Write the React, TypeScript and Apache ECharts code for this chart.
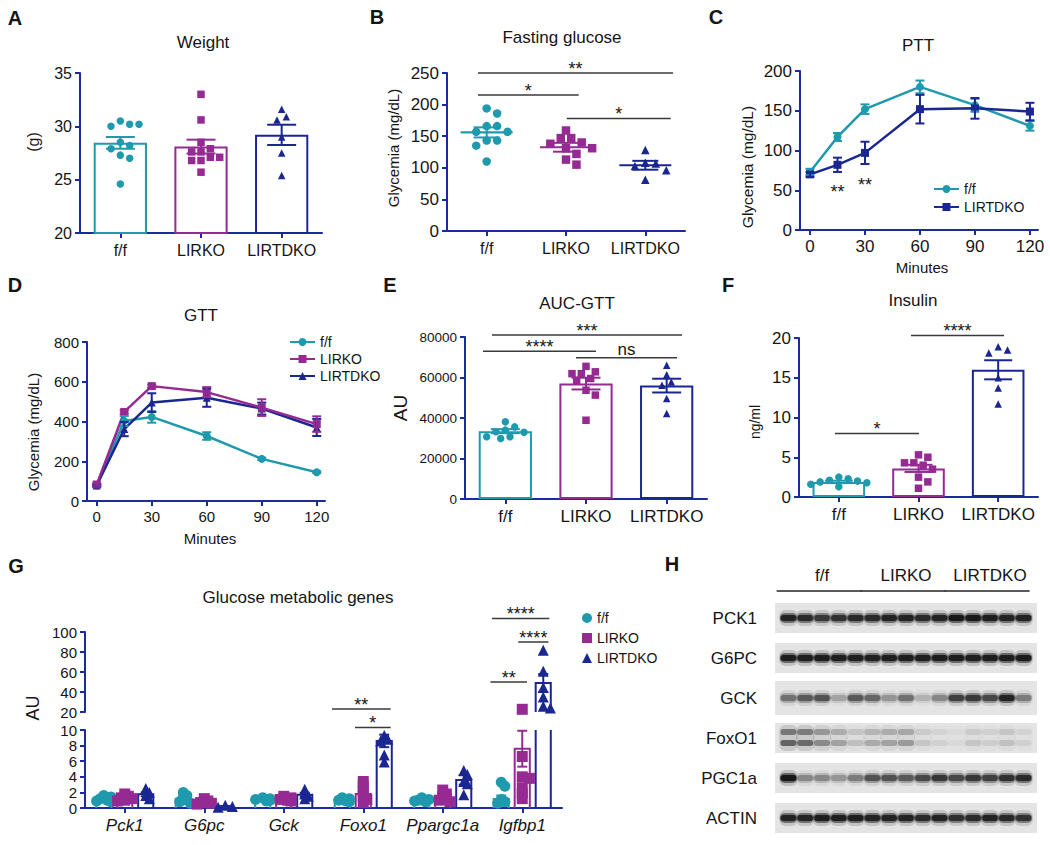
import React, { useEffect, useRef } from 'react';
import * as echarts from 'echarts';

const FONT = "'Liberation Sans', Arial, Helvetica, sans-serif";
const AXIS = '#1b2a9c';
const INK = '#151515';
const COLORS = ['#1f9aad', '#952b92', '#1b2791'];
const SYMBOLS = ['circle', 'rect', 'triangle'];

const groups = ['f/f', 'LIRKO', 'LIRTDKO'];

// A - Weight (g)
const weightFF = [30.5, 30.2, 30.0, 30.2, 28.5, 28.2, 27.9, 27.3, 27.0, 24.6];
const weightLIRKO = [33.0, 30.6, 28.5, 27.9, 27.6, 27.6, 27.1, 27.1, 26.8, 26.8, 25.7];
const weightLIRTDKO = [31.6, 30.9, 30.6, 29.0, 27.5, 25.4];
const weightMean = [28.45, 28.1, 29.2];
const weightSem = [0.55, 0.65, 0.95];

// B - Fasting glucose (mg/dL)
const glucoseFF = [194, 186, 166, 166, 157, 157, 143, 143, 135, 110];
const glucoseLIRKO = [159, 147, 147, 140, 138, 131, 131, 122, 113, 105];
const glucoseLIRTDKO = [128, 108, 107, 103, 96, 81];
const glucoseMean = [156, 132.5, 104];
const glucoseSem = [8, 7, 7];
const glucoseSig: [number, number, number, string][] = [
  [-0.11, 2.35, 250, '**'],
  [-0.11, 1.16, 215, '*'],
  [1.01, 2.32, 178, '*'],
];

// C - PTT
const minuteTicks = [0, 30, 60, 90, 120];
const pttMinutes = [0, 15, 30, 60, 90, 120];
const pttFF = [73, 117, 152, 180, 157, 131];
const pttFFSem = [4, 5, 6, 8, 8, 6];
const pttLIRTDKO = [70, 82, 97, 152, 153, 149];
const pttLIRTDKOSem = [3, 9, 14, 18, 13, 11];
const pttStars: [number, number, string][] = [
  [15, 54, '**'],
  [30, 63, '**'],
];

// D - GTT
const gttMinutes = [0, 15, 30, 60, 90, 120];
const gttFF = [78, 403, 423, 327, 212, 145];
const gttFFSem = [6, 25, 29, 19, 6, 5];
const gttLIRKO = [83, 448, 578, 548, 470, 387];
const gttLIRKOSem = [6, 8, 8, 25, 42, 39];
const gttLIRTDKO = [78, 362, 495, 520, 465, 370];
const gttLIRTDKOSem = [5, 36, 47, 46, 30, 43];

// E - AUC-GTT
const aucFF = [38100, 35600, 34000, 33200, 33000, 30700, 30700, 29900];
const aucLIRKO = [65500, 62800, 61900, 61900, 59500, 58600, 53700, 51300, 38900];
const aucLIRTDKO = [66000, 61400, 57800, 56200, 49600, 42200];
const aucMean = [33500, 57000, 56000];
const aucSem = [1000, 2900, 3400];
const aucSig: [number, number, number, string][] = [
  [-0.165, 2.19, 81000, '***'],
  [-0.277, 1.124, 73000, '****'],
  [0.876, 2.128, 69800, 'ns'],
];

// F - Insulin (ng/ml)
const insulinFF = [2.5, 2.3, 2.1, 2.0, 1.9, 1.8, 1.6, 1.3];
const insulinLIRKO = [5.3, 5.0, 4.3, 4.3, 4.0, 3.5, 2.5, 1.9, 1.1];
const insulinLIRTDKO = [18.9, 18.5, 18.1, 15.0, 13.7, 11.7];
const insulinMean = [1.9, 3.6, 16.0];
const insulinSem = [0.15, 0.45, 1.2];
const insulinSig: [number, number, number, string][] = [
  [-0.048, 1.006, 8, '*'],
  [0.906, 2.073, 20.3, '****'],
];

// G - Glucose metabolic genes (AU)
const genes = ['Pck1', 'G6pc', 'Gck', 'Foxo1', 'Ppargc1a', 'Igfbp1'];
const geneMeanFF = [1.2, 1.2, 1.1, 1.06, 1.0, 1.15];
const geneSemFF = [0.12, 0.15, 0.08, 0.08, 0.07, 0.45];
const geneMeanLIRKO = [1.4, 0.8, 1.2, 1.8, 1.4, 7.6];
const geneSemLIRKO = [0.15, 0.12, 0.1, 0.3, 0.15, 2.3];
const geneMeanLIRTDKO = [1.75, 0.2, 1.7, 8.6, 3.6, 49];
const geneSemLIRTDKO = [0.25, 0.05, 0.25, 0.8, 0.6, 9];
const genePtsFF = [
  [1.6, 1.4, 1.2, 1.0, 0.9, 0.8],
  [2.0, 1.6, 1.3, 1.0, 0.8, 0.6],
  [1.3, 1.2, 1.1, 1.0, 0.9],
  [1.3, 1.2, 1.0, 0.9, 0.8],
  [1.3, 1.1, 1.0, 0.9, 0.8],
  [3.3, 2.8, 1.1, 0.8, 0.6],
];
const genePtsLIRKO = [
  [1.8, 1.5, 1.3, 1.2, 1.0, 0.9],
  [1.2, 0.9, 0.7, 0.6, 0.5],
  [1.5, 1.3, 1.1, 1.0, 0.9],
  [3.4, 2.8, 2.1, 1.5, 1.1, 0.7],
  [2.3, 1.8, 1.5, 1.2, 1.0, 0.8],
  [22.7, 6.6, 4.0, 3.8, 2.6, 1.9, 1.2],
];
const genePtsLIRTDKO = [
  [2.5, 2.0, 1.6, 1.2],
  [0.35, 0.2, 0.1],
  [2.4, 1.8, 1.5, 1.2],
  [9.3, 8.8, 8.6, 6.8, 5.9],
  [4.8, 4.3, 3.4, 3.1, 1.7],
  [81.7, 60.7, 44.4, 35, 25.7, 24],
];
// brackets in upper-segment units
const geneSig: [number, number, number, string][] = [
  [2.607, 3.345, 23, '**'],
  [2.896, 3.345, 4.4, '*'],
  [4.62, 5.34, 113.4, '****'],
  [4.95, 5.33, 90, '****'],
  [4.6, 5.06, 50, '**'],
];

// H - western blot (band intensity 0..1 per lane)
const blotRows = ['PCK1', 'G6PC', 'GCK', 'FoxO1', 'PGC1a', 'ACTIN'];
const blotGroups = ['f/f', 'LIRKO', 'LIRTDKO'];
const blotPCK1 = [0.85, 0.8, 0.7, 0.75, 0.8, 0.8, 0.85, 0.85, 0.8, 0.85, 0.95, 0.95, 0.9, 0.85, 0.85];
const blotG6PC = [0.9, 0.9, 0.9, 0.9, 0.88, 0.88, 0.9, 0.9, 0.9, 0.9, 0.9, 0.9, 0.9, 0.9, 0.92];
const blotGCK = [0.4, 0.5, 0.55, 0.2, 0.5, 0.45, 0.25, 0.4, 0.15, 0.3, 0.65, 0.7, 0.6, 0.85, 0.35];
const blotFoxO1 = [0.75, 0.7, 0.5, 0.35, 0.2, 0.3, 0.35, 0.4, 0.15, 0.1, 0.05, 0.15, 0.12, 0.18, 0.1];
const blotPGC1a = [0.95, 0.3, 0.3, 0.25, 0.35, 0.55, 0.55, 0.5, 0.6, 0.7, 0.6, 0.7, 0.65, 0.75, 0.8];
const blotACTIN = [0.85, 0.85, 0.9, 0.9, 0.9, 0.85, 0.85, 0.85, 0.8, 0.85, 0.75, 0.8, 0.85, 0.8, 0.75];

// ---------- helpers ----------
function swarm(vals: number[], toPx: (v: number) => number, catPx: number, d: number, step = 0.55): number[] {
  const placed: number[][] = [];
  return vals.map((v) => {
    const y = toPx(v);
    for (let k = 0; k < 80; k++) {
      const x = Math.ceil(k / 2) * d * step * (k % 2 === 1 ? 1 : -1);
      if (placed.every((p) => Math.hypot(p[0] - x, p[1] - y) >= d * 0.95)) {
        placed.push([x, y]);
        return x / catPx;
      }
    }
    return 0;
  });
}

const L = (x1: number, y1: number, x2: number, y2: number, stroke: string, lineWidth = 2) => ({
  type: 'line',
  shape: { x1, y1, x2, y2 },
  style: { stroke, lineWidth },
});

function errorRender(capHalf: number, meanHalf: number) {
  return (_params: any, api: any) => {
    const x = api.value(0);
    const m = api.value(1);
    const s = api.value(2);
    const col = COLORS[api.value(3)];
    const t = api.coord([x, m + s]);
    const b = api.coord([x, m - s]);
    const ch: any[] = [
      L(t[0], t[1], b[0], b[1], col),
      L(t[0] - capHalf, t[1], t[0] + capHalf, t[1], col),
      L(b[0] - capHalf, b[1], b[0] + capHalf, b[1], col),
    ];
    if (meanHalf > 0) {
      const c = api.coord([x, m]);
      ch.push(L(c[0] - meanHalf, c[1], c[0] + meanHalf, c[1], col, 2.2));
    }
    return { type: 'group', children: ch };
  };
}

function starText(text: string, cx: number, cy: number) {
  const ns = text === 'ns';
  const fs = ns ? 17 : 18;
  const y = ns ? cy + 0.46 * fs : cy + 0.77 * fs;
  return {
    type: 'text',
    x: cx,
    y,
    style: { text, fill: INK, fontSize: fs, fontFamily: FONT, textAlign: 'center', textVerticalAlign: 'bottom' },
  };
}

function valAxis(gridIndex: number, min: number, max: number, interval: number, fontSize: number) {
  return {
    type: 'value',
    gridIndex,
    min,
    max,
    interval,
    axisLine: { show: true, onZero: false, lineStyle: { color: AXIS, width: 2 } },
    axisTick: { show: true, length: 5, lineStyle: { color: AXIS, width: 2 } },
    axisLabel: { color: INK, fontSize, fontFamily: FONT, margin: 8, formatter: (v: number) => String(v) },
    splitLine: { show: false },
  };
}

function catAxis(gridIndex: number, data: string[], fontSize: number, italic = false) {
  return {
    type: 'category',
    gridIndex,
    data,
    axisLine: { show: true, onZero: false, lineStyle: { color: AXIS, width: 2 } },
    axisTick: { show: true, alignWithLabel: true, length: 5, lineStyle: { color: AXIS, width: 2 } },
    axisLabel: {
      color: INK,
      fontSize,
      fontFamily: FONT,
      margin: 9,
      interval: 0,
      fontStyle: italic ? 'italic' : 'normal',
    },
  };
}

function minutesAxis(gridIndex: number, min: number, max: number, fontSize: number) {
  return {
    type: 'value',
    gridIndex,
    min,
    max,
    axisLine: { show: true, onZero: false, lineStyle: { color: AXIS, width: 2 } },
    axisTick: { show: true, length: 5, customValues: minuteTicks, lineStyle: { color: AXIS, width: 2 } },
    axisLabel: { customValues: minuteTicks, color: INK, fontSize, fontFamily: FONT, margin: 8 },
    splitLine: { show: false },
  };
}

const hidden = (gridIndex: number, min: number, max: number) => ({ type: 'value', gridIndex, min, max, show: false });

function buildOption() {
  const series: any[] = [];

  const panel = (cfg: {
    catX: number; valX: number; y: number; means: number[]; sems: number[]; pts: number[][];
    pxPerUnit: number; catPx: number; sym: number; bars: boolean; cap: number; meanHalf: number;
  }) => {
    if (cfg.bars) {
      series.push({
        type: 'bar', xAxisIndex: cfg.catX, yAxisIndex: cfg.y, barWidth: '66%', silent: true, z: 2,
        data: cfg.means.map((m, i) => ({ value: m, itemStyle: { color: '#ffffff', borderColor: COLORS[i], borderWidth: 2 } })),
      });
    }
    cfg.pts.forEach((vals, g) => {
      const off = swarm(vals, (v) => v * cfg.pxPerUnit, cfg.catPx, cfg.sym + 1);
      series.push({
        type: 'scatter', xAxisIndex: cfg.valX, yAxisIndex: cfg.y, symbol: SYMBOLS[g], symbolSize: cfg.sym,
        itemStyle: { color: COLORS[g], opacity: 1 }, silent: true, z: 3,
        data: vals.map((v, k) => [g + off[k], v]),
      });
    });
    series.push({
      type: 'custom', xAxisIndex: cfg.valX, yAxisIndex: cfg.y, silent: true, z: 4,
      data: cfg.means.map((m, i) => [i, m, cfg.sems[i], i]),
      renderItem: errorRender(cfg.cap, cfg.meanHalf),
    });
  };

  const sig = (x: number, y: number, items: [number, number, number, string][]) => {
    series.push({
      type: 'custom', xAxisIndex: x, yAxisIndex: y, silent: true, z: 6, clip: false,
      data: items.map((it) => [it[0], it[2]]),
      renderItem: (params: any, api: any) => {
        const it = items[params.dataIndex];
        const p1 = api.coord([it[0], it[2]]);
        const p2 = api.coord([it[1], it[2]]);
        const ns = it[3] === 'ns';
        return {
          type: 'group',
          children: [
            L(p1[0], p1[1], p2[0], p2[1], '#3a3a3a', 1.5),
            starText(it[3], (p1[0] + p2[0]) / 2, p1[1] - (ns ? 7 : 9)),
          ],
        };
      },
    });
  };

  // A
  panel({ catX: 0, valX: 1, y: 0, means: weightMean, sems: weightSem, pts: [weightFF, weightLIRKO, weightLIRTDKO],
    pxPerUnit: 160 / 15, catPx: 80.7, sym: 7.5, bars: true, cap: 14.5, meanHalf: 0 });
  // B
  panel({ catX: 2, valX: 3, y: 1, means: glucoseMean, sems: glucoseSem, pts: [glucoseFF, glucoseLIRKO, glucoseLIRTDKO],
    pxPerUnit: 158 / 250, catPx: 79.3, sym: 8.5, bars: false, cap: 13, meanHalf: 26 });
  sig(3, 1, glucoseSig);
  // E
  panel({ catX: 6, valX: 7, y: 4, means: aucMean, sems: aucSem, pts: [aucFF, aucLIRKO, aucLIRTDKO],
    pxPerUnit: 162 / 80000, catPx: 80.7, sym: 7.5, bars: true, cap: 14.5, meanHalf: 0 });
  sig(7, 4, aucSig);
  // F
  panel({ catX: 8, valX: 9, y: 5, means: insulinMean, sems: insulinSem, pts: [insulinFF, insulinLIRKO, insulinLIRTDKO],
    pxPerUnit: 159 / 20, catPx: 79.7, sym: 7.5, bars: true, cap: 14, meanHalf: 0 });
  sig(9, 5, insulinSig);

  // C & D line charts
  const lineSeries = (name: string, x: number, y: number, t: number[], v: number[], s: number[], g: number, symbol: string) => {
    series.push({
      type: 'line', name, xAxisIndex: x, yAxisIndex: y, symbol, symbolSize: 8,
      lineStyle: { color: COLORS[g], width: 2.5 }, itemStyle: { color: COLORS[g] }, silent: true, z: 3,
      data: t.map((tt, i) => [tt, v[i]]),
    });
    series.push({
      type: 'custom', xAxisIndex: x, yAxisIndex: y, silent: true, z: 4,
      data: t.map((tt, i) => [tt, v[i], s[i], g]),
      renderItem: errorRender(4.5, 0),
    });
  };
  lineSeries('C:f/f', 4, 2, pttMinutes, pttFF, pttFFSem, 0, 'circle');
  lineSeries('C:LIRTDKO', 4, 2, pttMinutes, pttLIRTDKO, pttLIRTDKOSem, 2, 'rect');
  series.push({
    type: 'custom', xAxisIndex: 4, yAxisIndex: 2, silent: true, z: 6, clip: false,
    data: pttStars.map((s) => [s[0], s[1]]),
    renderItem: (params: any, api: any) => {
      const p = api.coord([api.value(0), api.value(1)]);
      return starText(pttStars[params.dataIndex][2], p[0], p[1]);
    },
  });
  lineSeries('D:f/f', 5, 3, gttMinutes, gttFF, gttFFSem, 0, 'circle');
  lineSeries('D:LIRTDKO', 5, 3, gttMinutes, gttLIRTDKO, gttLIRTDKOSem, 2, 'triangle');
  lineSeries('D:LIRKO', 5, 3, gttMinutes, gttLIRKO, gttLIRKOSem, 1, 'rect');

  // G broken-axis grouped bars
  const gMeans = [geneMeanFF, geneMeanLIRKO, geneMeanLIRTDKO];
  const gSems = [geneSemFF, geneSemLIRKO, geneSemLIRTDKO];
  const gPts = [genePtsFF, genePtsLIRKO, genePtsLIRTDKO];
  const BAR_OFF = [-0.264, 0, 0.264];
  const gData: number[][] = [];
  gMeans.forEach((arr, g) => arr.forEach((m, c) => gData.push([c + BAR_OFF[g], m, gSems[g][c], g])));

  const geneRender = (lo: number, hi: number, part: 'bar' | 'err') => (_params: any, api: any) => {
    const x = api.value(0);
    const m = api.value(1);
    const s = api.value(2);
    const col = COLORS[api.value(3)];
    const w = api.size([1, 0])[0] * 0.19;
    const cx = api.coord([x, lo])[0];
    const yOf = (v: number) => api.coord([x, v])[1];
    const ch: any[] = [];
    if (part === 'bar') {
      if (m > lo) {
        if (m <= hi) {
          ch.push({
            type: 'polyline',
            shape: { points: [[cx - w / 2, yOf(lo)], [cx - w / 2, yOf(m)], [cx + w / 2, yOf(m)], [cx + w / 2, yOf(lo)]] },
            style: { stroke: col, lineWidth: 2, fill: 'none' },
          });
        } else {
          ch.push(L(cx - w / 2, yOf(lo), cx - w / 2, yOf(hi), col));
          ch.push(L(cx + w / 2, yOf(lo), cx + w / 2, yOf(hi), col));
        }
      }
    } else {
      const a = Math.max(m - s, lo);
      const b = Math.min(m + s, hi);
      if (b > a) {
        ch.push(L(cx, yOf(a), cx, yOf(b), col));
        if (m + s <= hi) ch.push(L(cx - 5, yOf(m + s), cx + 5, yOf(m + s), col));
        if (m - s >= lo) ch.push(L(cx - 5, yOf(m - s), cx + 5, yOf(m - s), col));
      }
    }
    return { type: 'group', children: ch };
  };
  [[11, 6, 0, 10], [12, 7, 20, 100]].forEach(([x, y, lo, hi]) => {
    series.push({ type: 'custom', xAxisIndex: x, yAxisIndex: y, silent: true, z: 2, data: gData, renderItem: geneRender(lo, hi, 'bar') });
    series.push({ type: 'custom', xAxisIndex: x, yAxisIndex: y, silent: true, z: 4, data: gData, renderItem: geneRender(lo, hi, 'err') });
  });
  const gToPx = (v: number) => (v <= 10 ? v * 7.8 : 96 + (v - 20));
  [0, 1, 2].forEach((g) => {
    const low: number[][] = [];
    const up: number[][] = [];
    gPts[g].forEach((vals, c) => {
      const off = swarm(vals, gToPx, 79.5, 4.5, 0.8);
      vals.forEach((v, k) => {
        const pt = [c + BAR_OFF[g] + Math.max(-0.09, Math.min(0.09, off[k])), v];
        if (v <= 10) low.push(pt);
        else up.push(pt);
      });
    });
    const base = {
      type: 'scatter', symbol: SYMBOLS[g], symbolSize: 11, itemStyle: { color: COLORS[g], opacity: 1 }, silent: true, z: 3,
    };
    series.push({ ...base, name: 'G:' + groups[g], xAxisIndex: 11, yAxisIndex: 6, data: low });
    series.push({ ...base, name: 'G:' + groups[g] + ':u', xAxisIndex: 12, yAxisIndex: 7, data: up });
  });
  sig(12, 7, geneSig);

  // H blot
  const blotData = [blotPCK1, blotG6PC, blotGCK, blotFoxO1, blotPGC1a, blotACTIN];
  series.push({
    type: 'custom', xAxisIndex: 13, yAxisIndex: 8, silent: true, z: 1,
    data: blotRows.map((_r, i) => [0, i]),
    renderItem: (params: any, api: any) => {
      const cs = params.coordSys;
      const yc = api.coord([0, api.value(1)])[1];
      const h = blotRows[params.dataIndex] === 'GCK' ? 34 : 30;
      return { type: 'rect', shape: { x: cs.x, y: yc - h / 2, width: cs.width, height: h }, style: { fill: '#e4e4e4' } };
    },
  });
  const bands: number[][] = [];
  blotData.forEach((row, r) => row.forEach((a, l) => bands.push([l, r, a])));
  series.push({
    type: 'custom', xAxisIndex: 13, yAxisIndex: 8, silent: true, z: 2,
    data: bands,
    renderItem: (_params: any, api: any) => {
      const p = api.coord([api.value(0), api.value(1)]);
      const a = api.value(2);
      const w = api.size([1, 0])[0];
      const smear = blotRows[api.value(1)] === 'FoxO1';
      const ch: any[] = [];
      ch.push({ type: 'rect', shape: { x: p[0] - w * 0.55, y: p[1] - (smear ? 13 : 8), width: w * 1.1, height: smear ? 26 : 16, r: 6 }, style: { fill: `rgba(40,40,40,${a * 0.2})` } });
      if (smear) {
        ch.push({ type: 'rect', shape: { x: p[0] - w * 0.48, y: p[1] - 9, width: w * 0.96, height: 6, r: 3 }, style: { fill: `rgba(20,20,20,${a * 0.6})` } });
        ch.push({ type: 'rect', shape: { x: p[0] - w * 0.48, y: p[1] + 2, width: w * 0.96, height: 6, r: 3 }, style: { fill: `rgba(20,20,20,${a * 0.75})` } });
      } else {
        ch.push({ type: 'rect', shape: { x: p[0] - w * 0.52, y: p[1] - 5, width: w * 1.04, height: 10, r: 5 }, style: { fill: `rgba(30,30,30,${a * 0.6})` } });
        ch.push({ type: 'rect', shape: { x: p[0] - w * 0.46, y: p[1] - 3, width: w * 0.92, height: 6, r: 3 }, style: { fill: `rgba(12,12,12,${a * 0.9})` } });
      }
      return { type: 'group', children: ch };
    },
  });
  series.push({
    type: 'custom', xAxisIndex: 13, yAxisIndex: 8, silent: true, z: 3, clip: false,
    data: blotGroups.map((_g, i) => [i * 5, 0]),
    renderItem: (params: any, api: any) => {
      const cs = params.coordSys;
      const s = api.value(0);
      const e = s + 4;
      const x1 = api.coord([s - 0.7, 0])[0];
      const x2 = api.coord([e + 0.36, 0])[0];
      const xm = api.coord([(s + e) / 2, 0])[0];
      return {
        type: 'group',
        children: [
          L(x1, cs.y - 7, x2, cs.y - 7, '#222', 1.3),
          {
            type: 'text', x: xm, y: cs.y - 23,
            style: { text: blotGroups[params.dataIndex], fill: INK, fontSize: 17, fontFamily: FONT, textAlign: 'center', textVerticalAlign: 'middle' },
          },
        ],
      };
    },
  });

  const T = (text: string, x: number, y: number, size: number, bold = false, rot = false) => ({
    type: 'text', x, y, rotation: rot ? Math.PI / 2 : 0, silent: true,
    style: { text, fill: INK, fontSize: size, fontFamily: FONT, fontWeight: bold ? 'bold' : 'normal', textAlign: 'center', textVerticalAlign: 'middle' },
  });

  const legendBase = {
    orient: 'vertical', selectedMode: false,
    formatter: (n: string) => n.split(':')[1],
    textStyle: { color: INK, fontSize: 14, fontFamily: FONT },
  };

  return {
    animation: false,
    backgroundColor: '#ffffff',
    textStyle: { fontFamily: FONT },
    grid: [
      { left: 80, top: 73, width: 242, height: 160 },
      { left: 447, top: 73, width: 238, height: 158 },
      { left: 800, top: 71, width: 238, height: 159 },
      { left: 87, top: 342, width: 238, height: 159 },
      { left: 465, top: 337, width: 242, height: 162 },
      { left: 799, top: 338, width: 239, height: 159 },
      { left: 85, top: 730, width: 477, height: 78 },
      { left: 85, top: 632, width: 477, height: 80 },
      { left: 775, top: 598, width: 262, height: 240 },
    ].map((g) => ({ ...g, outerBoundsMode: 'none' })),
    xAxis: [
      catAxis(0, groups, 16),
      hidden(0, -0.5, 2.5),
      catAxis(1, groups, 16),
      hidden(1, -0.5, 2.5),
      minutesAxis(2, -5.45, 124.4, 17),
      minutesAxis(3, -5.3, 124.5, 15),
      catAxis(4, groups, 17),
      hidden(4, -0.5, 2.5),
      catAxis(5, groups, 17),
      hidden(5, -0.5, 2.5),
      catAxis(6, genes, 17, true),
      hidden(6, -0.5, 5.5),
      hidden(7, -0.5, 5.5),
      hidden(8, -0.8, 14.8),
    ],
    yAxis: [
      valAxis(0, 20, 35, 5, 16),
      valAxis(1, 0, 250, 50, 17),
      valAxis(2, 0, 200, 50, 17),
      valAxis(3, 0, 800, 200, 15),
      valAxis(4, 0, 80000, 20000, 13.5),
      valAxis(5, 0, 20, 5, 17),
      valAxis(6, 0, 10, 2, 15),
      valAxis(7, 20, 100, 20, 15),
      {
        type: 'category', gridIndex: 8, data: blotRows, inverse: true,
        axisLine: { show: false }, axisTick: { show: false },
        axisLabel: { color: INK, fontSize: 17, fontFamily: FONT, margin: 18 },
      },
    ],
    legend: [
      { ...legendBase, left: 928, top: 177, itemWidth: 25, itemHeight: 10, itemGap: 4, data: ['C:f/f', 'C:LIRTDKO'] },
      { ...legendBase, left: 284, top: 330, itemWidth: 25, itemHeight: 10, itemGap: 3, data: ['D:f/f', 'D:LIRKO', 'D:LIRTDKO'] },
      { ...legendBase, left: 577, top: 606, itemWidth: 10, itemHeight: 10, itemGap: 6, data: ['G:f/f', 'G:LIRKO', 'G:LIRTDKO'] },
    ],
    graphic: [
      T('A', 15, 18, 20, true), T('B', 377, 17, 20, true), T('C', 716, 17, 20, true),
      T('D', 15, 285, 20, true), T('E', 390, 285, 20, true), T('F', 728, 285, 20, true),
      T('G', 16, 566, 20, true), T('H', 672, 564, 20, true),
      T('Weight', 203, 42, 17), T('Fasting glucose', 562, 37, 17), T('PTT', 918, 45, 17),
      T('GTT', 201, 315, 17), T('AUC-GTT', 577, 303, 17), T('Insulin', 913, 300, 17),
      T('Glucose metabolic genes', 298, 597, 17),
      T('(g)', 33, 142, 16, false, true),
      T('Glycemia (mg/dL)', 393, 148, 15, false, true),
      T('Glycemia (mg/dL)', 747, 167, 15.5, false, true),
      T('Glycemia (mg/dL)', 33, 432, 15, false, true),
      T('AU', 400, 408, 19, false, true),
      T('ng/ml', 755, 422, 14, false, true),
      T('AU', 33, 708, 18, false, true),
      T('Minutes', 922, 267, 15), T('Minutes', 210, 538, 15),
    ],
    series,
  };
}

export default function App() {
  const ref = useRef<HTMLDivElement>(null);
  useEffect(() => {
    if (!ref.current) return;
    const chart = echarts.init(ref.current, null, { renderer: 'svg' });
    chart.setOption(buildOption() as any);
    return () => chart.dispose();
  }, []);
  return <div ref={ref} style={{ position: 'fixed', left: 0, top: 0, width: 1050, height: 845, background: '#fff' }} />;
}
